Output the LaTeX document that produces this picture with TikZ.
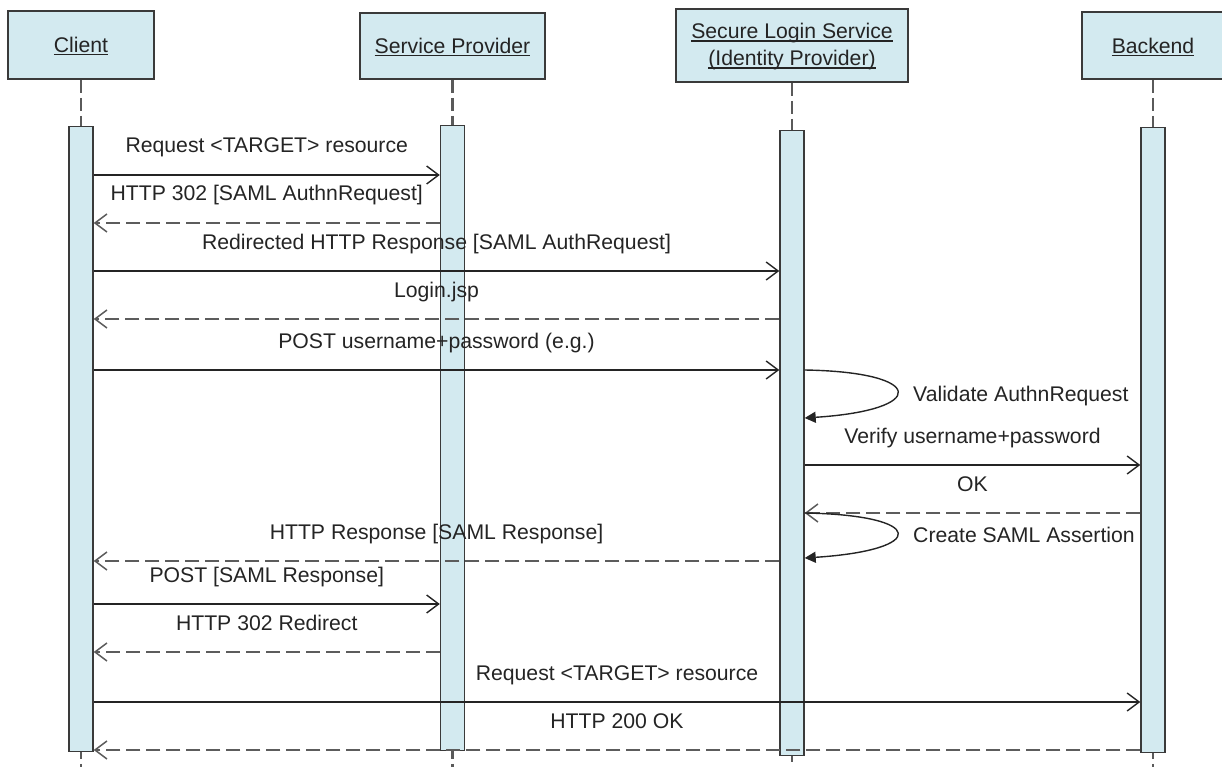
\documentclass[tikz,border=0pt]{standalone}
\usepackage{fontspec}
\setmainfont{Liberation Sans}
\usetikzlibrary{arrows.meta}

\definecolor{actfill}{RGB}{211,234,240}
\definecolor{edge}{RGB}{58,58,58}
\definecolor{ink}{RGB}{36,36,36}
\definecolor{dashink}{RGB}{92,92,92}
\definecolor{lifeink}{RGB}{90,90,90}

% underlined participant name with a fixed rule depth, set slightly low in its box
\newcommand\ulword[1]{\raisebox{-1.5pt}[\height][\depth]{\sbox0{#1}\rlap{\rule[-2.6pt]{\wd0}{1.3pt}}\usebox0}}

\begin{document}
\begin{tikzpicture}[x=1pt,y=-1pt,
  every node/.style={font=\fontsize{21.2}{27}\selectfont, text=ink},
  head/.style={draw=edge, line width=1.8pt, fill=actfill, inner sep=0pt, align=center},
  actbar/.style={draw=edge, line width=1.4pt, fill=actfill, inner sep=0pt,
                 minimum width=24pt, minimum height=625pt, anchor=north},
  life/.style={draw=lifeink, line width=2.2pt, dash pattern=on 13pt off 5pt},
  call/.style={draw=ink, line width=1.4pt, -{Straight Barb[length=12pt,width=18pt]}},
  reply/.style={draw=dashink, line width=1.5pt, dash pattern=on 14pt off 6pt,
                -{Straight Barb[length=12pt,width=18pt]}},
  selfcall/.style={draw=ink, line width=1.4pt, -{Triangle[length=11pt,width=11pt]}},
  lbl/.style={anchor=base, inner sep=0pt, yshift=22pt},
  looplbl/.style={anchor=base west, inner sep=0pt},
]
\useasboundingbox (0,0) rectangle (1222,767);

% participants
\node[head, minimum width=146pt, minimum height=68pt] (client) at (81,45) {\ulword{Client}};
\node[head, minimum width=185pt, minimum height=66pt] (sp) at (452.5,46) {\ulword{Service Provider}};
\node[head, minimum width=232pt, minimum height=73pt] (sls) at (792,45.5)
  {\ulword{Secure Login Service}\\\ulword{(Identity Provider)}};
\node[head, minimum width=142pt, minimum height=67pt] (be) at (1153,45.5) {\ulword{Backend}};

% lifelines
\coordinate (bottom) at (0,767);
\foreach \p in {client,sp,sls,be}
  \draw[life] (\p.south) -- (\p.south |- bottom);

% activation bars
\node[actbar] (cbar) at (client.south |- 0,126) {};
\node[actbar] (spbar) at (sp.south |- 0,125) {};
\node[actbar] (slsbar) at (sls.south |- 0,130) {};
\node[actbar] (bbar) at (be.south |- 0,127) {};

% messages
\draw[call]  (cbar.east |- 0,175) -- node[lbl] {Request <TARGET> resource} (spbar.west |- 0,175);
\draw[reply] (spbar.west |- 0,223) -- node[lbl] {HTTP 302 [SAML AuthnRequest]} (cbar.east |- 0,223);
\draw[call]  (cbar.east |- 0,271) -- node[lbl] {Redirected HTTP Response [SAML AuthRequest]} (slsbar.west |- 0,271);
\draw[reply] (slsbar.west |- 0,319) -- node[lbl] {Login.jsp} (cbar.east |- 0,319);
\draw[call]  (cbar.east |- 0,370) -- node[lbl] {POST username+password (e.g.)} (slsbar.west |- 0,370);

\draw[selfcall] (slsbar.east |- 0,370) .. controls +(122,2) and +(124,-8) .. (slsbar.east |- 0,418);
\node[looplbl] (val) at (913,401) {Validate AuthnRequest};

\draw[call]  (slsbar.east |- 0,465) -- node[lbl] {Verify username+password} (bbar.west |- 0,465);
\draw[reply] (bbar.west |- 0,513) -- node[lbl] {OK} (slsbar.east |- 0,513);

\draw[selfcall] (slsbar.east |- 0,513) .. controls +(122,2) and +(124,-8) .. (slsbar.east |- 0,558);
\node[looplbl] (create) at (913,542) {Create SAML Assertion};

\draw[reply] (slsbar.west |- 0,561) -- node[lbl] {HTTP Response [SAML Response]} (cbar.east |- 0,561);
\draw[call]  (cbar.east |- 0,604) -- node[lbl] {POST [SAML Response]} (spbar.west |- 0,604);
\draw[reply] (spbar.west |- 0,652) -- node[lbl] {HTTP 302 Redirect} (cbar.east |- 0,652);
\draw[call]  (cbar.east |- 0,702) -- node[lbl] {Request <TARGET> resource} (bbar.west |- 0,702);
\draw[reply] (bbar.west |- 0,750) -- node[lbl] {HTTP 200 OK} (cbar.east |- 0,750);
\end{tikzpicture}
\end{document}
